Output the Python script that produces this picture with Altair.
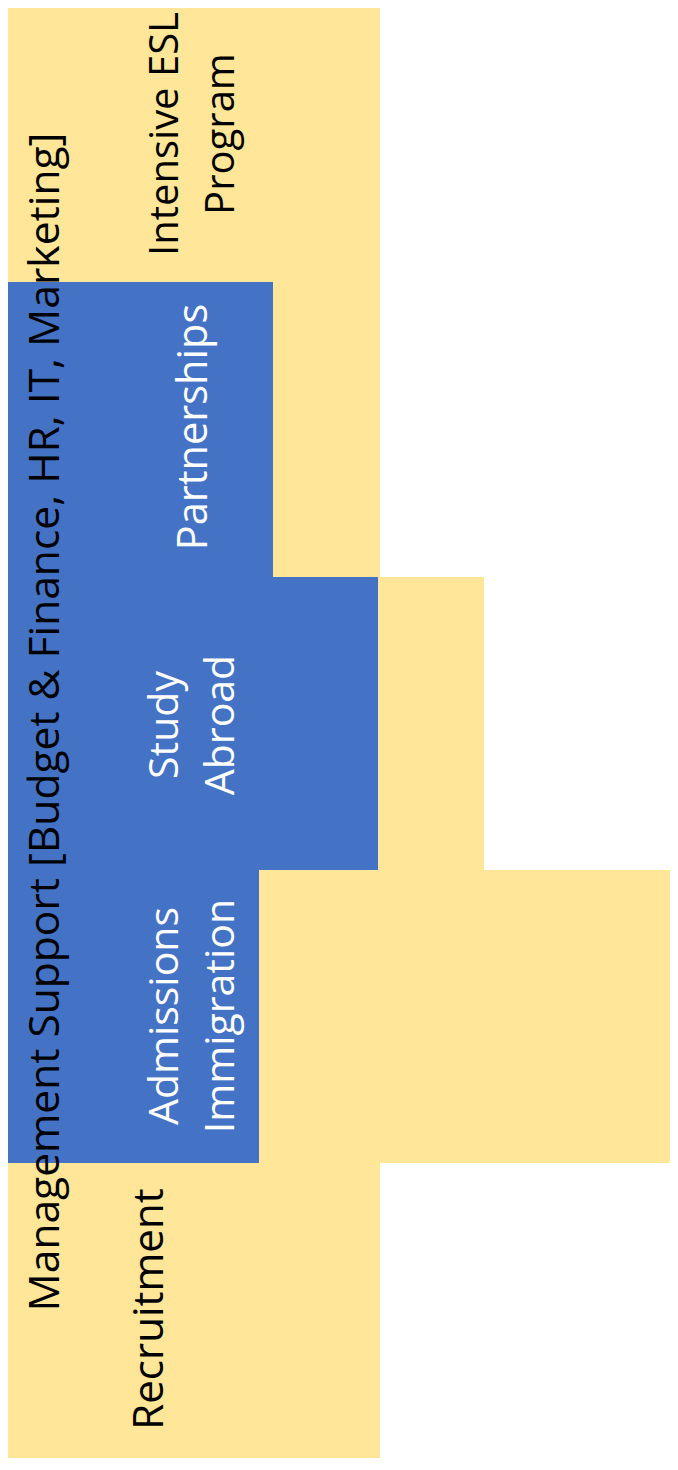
import altair as alt
import pandas as pd

# Boxes of the diagram (reference pixel coordinates)
box_fill = ["yellow", "yellow", "yellow", "blue", "blue", "blue"]
box_x0 = [6, 378, 259, 6, 6, 6]
box_x1 = [380, 484, 678, 273, 378, 259]
box_y0 = [0, 577, 870, 282, 577, 870]
box_y1 = [1458, 870, 1163, 577, 870, 1163]

# Labels
label_text = [
    "Management Support [Budget & Finance, HR, IT, Marketing]",
    "Intensive ESL\nProgram",
    "Partnerships",
    "Study\nAbroad",
    "Admissions\nImmigration",
    "Recruitment",
]
label_x = [46, 166, 195, 166, 166, 150]
label_y = [722, 134, 427, 725, 1016, 1309]
label_color = ["black", "black", "white", "white", "white", "black"]
label_size = [42.5, 40, 41.5, 41, 41, 42]

boxes = pd.DataFrame({"fill": box_fill, "x0": box_x0, "x1": box_x1,
                      "y0": box_y0, "y1": box_y1})
labels = pd.DataFrame({"text": label_text, "x": label_x, "y": label_y,
                       "color": label_color, "size": label_size})

W, H = 662, 1450
xs = alt.Scale(domain=[8, 8 + W], range=[0, W], nice=False, zero=False)
ys = alt.Scale(domain=[8, 8 + H], range=[0, H], nice=False, zero=False)

rects = alt.Chart(boxes).mark_rect(clip=True).encode(
    x=alt.X("x0:Q", scale=xs, axis=None),
    x2="x1:Q",
    y=alt.Y("y0:Q", scale=ys, axis=None),
    y2="y1:Q",
    color=alt.Color("fill:N", scale=alt.Scale(domain=["yellow", "blue"],
                                               range=["#FFE699", "#4472C4"]),
                    legend=None),
)

texts = alt.Chart(labels).mark_text(
    angle=270, align="center", baseline="middle", font="Open Sans",
    lineBreak="\n", lineHeight=56,
).encode(
    x=alt.X("x:Q", scale=xs, axis=None),
    y=alt.Y("y:Q", scale=ys, axis=None),
    text="text:N",
    color=alt.Color("color:N", scale=None),
    size=alt.Size("size:Q", scale=None),
)

chart = alt.layer(rects, texts).properties(
    width=W, height=H, padding=0, autosize="none"
).configure_view(stroke=None)

chart.save("out.html", embed_options={"renderer": "svg", "actions": False})
